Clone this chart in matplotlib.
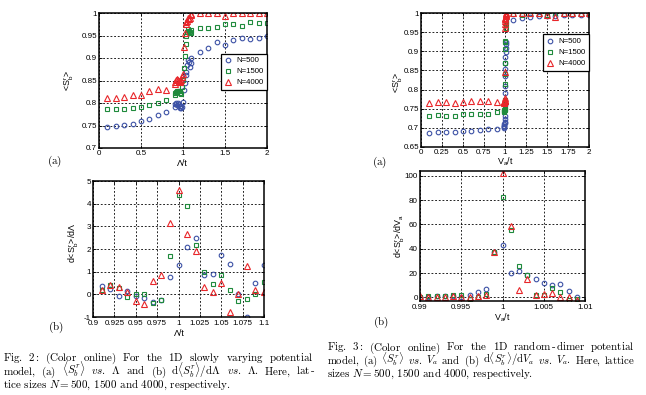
import matplotlib
matplotlib.use("Agg")
import matplotlib.pyplot as plt
from matplotlib.ticker import FixedLocator

# ---------------- data ----------------
# Fig.2(a): <S_b^r> vs Lambda/t
lam_x = [0.1, 0.2, 0.3, 0.4, 0.5, 0.6, 0.7, 0.8, 0.9,
         0.91, 0.92, 0.93, 0.94, 0.95, 0.96, 0.97, 0.98, 0.99, 1.00,
         1.01, 1.02, 1.03, 1.04, 1.05, 1.06, 1.07, 1.08, 1.09, 1.10,
         1.2, 1.3, 1.4, 1.5, 1.6, 1.7, 1.8, 1.9, 2.0]
lam_n500 = [0.746, 0.748, 0.751, 0.754, 0.760, 0.765, 0.773, 0.780, 0.792,
            0.797, 0.799, 0.795, 0.800, 0.797, 0.794, 0.790, 0.788, 0.791, 0.803,
            0.829, 0.844, 0.862, 0.870, 0.885, 0.895, 0.892, 0.880, 0.890, 0.900,
            0.914, 0.923, 0.935, 0.928, 0.939, 0.945, 0.942, 0.945, 0.948]
lam_n1500 = [0.786, 0.786, 0.787, 0.789, 0.791, 0.795, 0.800, 0.806, 0.818,
             0.822, 0.824, 0.827, 0.826, 0.826, 0.826, 0.822, 0.820, 0.836, 0.851,
             0.877, 0.905, 0.931, 0.948, 0.958, 0.964, 0.960, 0.957, 0.956, 0.962,
             0.967, 0.966, 0.970, 0.976, 0.976, 0.972, 0.979, 0.977, 0.977]
lam_n4000 = [0.810, 0.812, 0.813, 0.818, 0.818, 0.827, 0.831, 0.829, 0.843,
             0.847, 0.851, 0.854, 0.852, 0.850, 0.846, 0.848, 0.852, 0.858, 0.864,
             0.925, 0.955, 0.975, 0.979, 0.983, 0.990, 0.987, 0.990, 0.995, 0.997,
             1.000, 1.000, 1.000, 0.993, 1.000, 1.000, 1.000, 1.000, 1.000]

# Fig.2(b): d<S_b^r>/dLambda
dlam_x = [0.91, 0.92, 0.93, 0.94, 0.95, 0.96, 0.97, 0.98, 0.99, 1.00,
          1.01, 1.02, 1.03, 1.04, 1.05, 1.06, 1.07, 1.08, 1.09, 1.10]
dlam_n500 = [0.37, 0.22, -0.06, 0.15, -0.07, -0.18, -0.35, -0.25, 0.76, 1.31,
             2.09, 2.49, 0.87, 0.91, 1.73, 1.36, 0.0, -1.0, 0.49, 1.28]
dlam_n1500 = [0.20, 0.40, 0.30, -0.10, 0.03, 0.0, -0.37, -0.23, 1.67, 4.37,
              3.90, 2.18, 1.00, 0.45, 0.85, 0.20, -0.28, -0.20, 0.03, 0.55]
dlam_n4000 = [0.19, 0.42, 0.34, 0.09, -0.30, -0.43, 0.61, 0.87, 3.15, 4.60,
              2.66, 1.90, 0.34, 0.09, 0.49, -0.79, 0.0, 1.24, 0.19, 0.12]

# Fig.3(a): <S_b^r> vs V_a/t
va_x = [0.1, 0.2, 0.3, 0.4, 0.5, 0.6, 0.7, 0.8, 0.9,
        0.990, 0.991, 0.992, 0.993, 0.994, 0.995, 0.996, 0.997, 0.998, 0.999,
        1.000, 1.001, 1.002, 1.003, 1.004, 1.005, 1.006, 1.007, 1.008, 1.009,
        1.1, 1.2, 1.3, 1.4, 1.5, 1.6, 1.7, 1.8, 1.9, 2.0]
va_n500 = [0.687, 0.688, 0.689, 0.689, 0.691, 0.692, 0.694, 0.696, 0.697,
           0.700, 0.702, 0.704, 0.706, 0.709, 0.712, 0.716, 0.722, 0.730, 0.760,
           0.790, 0.810, 0.835, 0.855, 0.870, 0.885, 0.897, 0.908, 0.918, 0.925,
           0.983, 0.987, 0.990, 0.991, 0.991, 0.993, 0.994, 0.994, 0.994, 0.996]
va_n1500 = [0.732, 0.733, 0.731, 0.732, 0.736, 0.737, 0.737, 0.737, 0.741,
            0.742, 0.743, 0.744, 0.745, 0.747, 0.748, 0.748, 0.747, 0.750, 0.773,
            0.815, 0.840, 0.870, 0.905, 0.925, 0.928, 0.960, 0.970, 0.975, 0.980,
            0.998, 0.996, 0.998, 0.998, 0.996, 1.000, 0.998, 0.998, 0.998, 1.000]
va_n4000 = [0.764, 0.767, 0.767, 0.766, 0.767, 0.771, 0.769, 0.769, 0.767,
            0.766, 0.767, 0.767, 0.768, 0.768, 0.769, 0.770, 0.771, 0.772, 0.777,
            0.847, 0.962, 0.972, 0.978, 0.984, 0.988, 0.992, 0.995, 0.997, 0.999,
            1.000, 1.000, 1.000, 1.000, 0.994, 0.990, 1.000, 1.000, 1.000, 1.000]

# Fig.3(b): d<S_b^r>/dV_a
dva_x = [0.990, 0.991, 0.992, 0.993, 0.994, 0.995, 0.996, 0.997, 0.998, 0.999,
         1.000, 1.001, 1.002, 1.003, 1.004, 1.005, 1.006, 1.007, 1.008, 1.009]
dva_n500 = [0.5, 0.5, 1.0, 1.0, 0.8, 0.5, 2.0, 4.0, 6.5, 37.0,
            43.0, 20.0, 22.0, 18.0, 14.7, 12.2, 10.3, 11.4, 5.4, 0.3]
dva_n1500 = [0.5, 1.0, 1.0, 0.8, 1.8, 1.8, -1.4, 0.0, 2.7, 37.0,
             82.3, 55.7, 25.5, 18.5, 1.9, 1.9, 7.6, 4.6, -2.2, -1.0]
dva_n4000 = [0.8, 0.5, 0.5, 0.3, 0.8, 0.0, 0.0, 1.4, 1.9, 37.5,
             102.7, 59.0, 6.0, 15.5, 1.9, 2.7, 3.3, 0.5, 0.5, -2.5]

series_labels = ["N=500", "N=1500", "N=4000"]

# tick labels
tl_xticks = [0, 0.5, 1, 1.5, 2]
tl_xticklabels = ["0", "0.5", "1", "1.5", "2"]
tl_yticks = [0.7, 0.75, 0.8, 0.85, 0.9, 0.95, 1.0]
tl_yticklabels = ["0.7", "0.75", "0.8", "0.85", "0.9", "0.95", "1"]
bl_xticks = [0.9, 0.925, 0.95, 0.975, 1.0, 1.025, 1.05, 1.075, 1.1]
bl_xticklabels = ["0.9", "0.925", "0.95", "0.975", "1", "1.025", "1.05", "1.075", "1.1"]
bl_yticks = [-1, 0, 1, 2, 3, 4, 5]
bl_yticklabels = ["-1", "0", "1", "2", "3", "4", "5"]
tr_xticks = [0, 0.25, 0.5, 0.75, 1, 1.25, 1.5, 1.75, 2]
tr_xticklabels = ["0", "0.25", "0.5", "0.75", "1", "1.25", "1.5", "1.75", "2"]
tr_yticks = [0.65, 0.7, 0.75, 0.8, 0.85, 0.9, 0.95, 1.0]
tr_yticklabels = ["0.65", "0.7", "0.75", "0.8", "0.85", "0.9", "0.95", "1"]
br_xticks = [0.99, 0.995, 1.0, 1.005, 1.01]
br_xticklabels = ["0.99", "0.995", "1", "1.005", "1.01"]
br_yticks = [0, 20, 40, 60, 80, 100]
br_yticklabels = ["0", "20", "40", "60", "80", "100"]

# ---------------- style ----------------
plt.rcParams['font.family'] = ['Liberation Sans', 'DejaVu Sans']
plt.rcParams['mathtext.fontset'] = 'custom'
plt.rcParams['mathtext.rm'] = 'Liberation Sans'
plt.rcParams['mathtext.it'] = 'Liberation Sans:italic'
plt.rcParams['mathtext.bf'] = 'Liberation Sans:bold'
plt.rcParams['axes.unicode_minus'] = False

W, H = 646, 395
fig = plt.figure(figsize=(W / 100, H / 100), dpi=100)

C_BLUE = '#3d52a6'
C_GREEN = '#1f8a3c'
C_RED = '#e8262a'
styles = [dict(marker='o', color=C_BLUE, ms=3.3),
          dict(marker='s', color=C_GREEN, ms=2.9),
          dict(marker='^', color=C_RED, ms=3.7)]
TFS = 5.8


def add_ax(l, t, r, b):
    return fig.add_axes([l / W, 1 - b / H, (r - l) / W, (b - t) / H])


def style_ax(ax, xt, xtl, yt, ytl, xlim, ylim, xpad=1.5):
    ax.set_xlim(*xlim)
    ax.set_ylim(*ylim)
    ax.xaxis.set_major_locator(FixedLocator(xt))
    ax.yaxis.set_major_locator(FixedLocator(yt))
    ax.set_xticklabels(xtl)
    ax.set_yticklabels(ytl)
    ax.tick_params(direction='in', top=True, right=True, length=2.2, width=0.6,
                   labelsize=TFS, pad=1.5, colors='black')
    ax.tick_params(axis='x', pad=xpad)
    ax.grid(True, color='black', linestyle=(0, (2.2, 2.2)), linewidth=0.6)
    for s in ax.spines.values():
        s.set_linewidth(1.1)
        s.set_color('black')


def plot_series(ax, x, ys):
    for y, st, lab in zip(ys, styles, series_labels):
        ax.plot(x, y, linestyle='none', marker=st['marker'], ms=st['ms'],
                mfc='none', mec=st['color'], mew=0.8, label=lab, clip_on=True)


def legend(ax, anchor):
    lg = ax.legend(loc='upper right', bbox_to_anchor=anchor, fontsize=5.6,
                   frameon=True, fancybox=False, framealpha=1, edgecolor='black',
                   handlelength=1.0, handletextpad=0.5, borderpad=0.45,
                   labelspacing=0.45, borderaxespad=0)
    lg.get_frame().set_linewidth(0.9)


def ftext(x, y, s, **kw):
    return fig.text(x / W, 1 - y / H, s, **kw)


# ---- Fig 2(a)
ax1 = add_ax(99, 13, 267, 148)
plot_series(ax1, lam_x, [lam_n500, lam_n1500, lam_n4000])
style_ax(ax1, tl_xticks, tl_xticklabels, tl_yticks, tl_yticklabels, (0, 2), (0.7, 1.0))
legend(ax1, (1.0, 0.70))

# ---- Fig 2(b)
ax2 = add_ax(93, 181, 264, 317)
plot_series(ax2, dlam_x, [dlam_n500, dlam_n1500, dlam_n4000])
style_ax(ax2, bl_xticks, bl_xticklabels, bl_yticks, bl_yticklabels, (0.9, 1.1), (-1, 5), xpad=2.5)

# ---- Fig 3(a)
ax3 = add_ax(421, 13, 589, 147)
plot_series(ax3, va_x, [va_n500, va_n1500, va_n4000])
style_ax(ax3, tr_xticks, tr_xticklabels, tr_yticks, tr_yticklabels, (0, 2), (0.65, 1.0))
legend(ax3, (1.0, 0.84))

# ---- Fig 3(b)
ax4 = add_ax(420, 171, 585, 301)
plot_series(ax4, dva_x, [dva_n500, dva_n1500, dva_n4000])
style_ax(ax4, br_xticks, br_xticklabels, br_yticks, br_yticklabels, (0.99, 1.01), (-3, 104), xpad=2.5)

# axis labels
LFS = 6.4
ftext(182, 163, "Λ/t", fontsize=LFS, ha='center', va='center')
ftext(69, 80, r"<$\mathrm{S^r_b}$>", fontsize=LFS, ha='center', va='center', rotation=90)
ftext(179, 333, "Λ/t", fontsize=LFS, ha='center', va='center')
ftext(74, 243, r"d<$\mathrm{S^r_b}$>/dΛ", fontsize=LFS, ha='center', va='center', rotation=90)
ftext(505, 162, r"$\mathrm{V_a}$/t", fontsize=LFS, ha='center', va='center')
ftext(398, 82, r"<$\mathrm{S^r_b}$>", fontsize=LFS, ha='center', va='center', rotation=90)
ftext(502, 318, r"$\mathrm{V_a}$/t", fontsize=LFS, ha='center', va='center')
ftext(400, 236, r"d<$\mathrm{S^r_b}$>/d$\mathrm{V_a}$", fontsize=LFS, ha='center', va='center', rotation=90)

# panel letters
SERIF = ['cmr10', 'DejaVu Serif']
PFS = 8.0
for (px, py, s) in [(55, 161, r"$\mathrm{(a)}$"), (56, 327, r"$\mathrm{(b)}$"),
                    (380, 162, r"$\mathrm{(a)}$"), (381, 322, r"$\mathrm{(b)}$")]:
    ftext(px, py, s, fontsize=PFS, family=SERIF, math_fontfamily='cm', ha='center', va='center')

# ---------------- captions ----------------
renderer = fig.canvas.get_renderer()


def text_width(s, fs):
    t = ftext(0, 0, s, fontsize=fs, family=SERIF, math_fontfamily='cm')
    w = t.get_window_extent(renderer).width
    t.remove()
    return w


def fit_size(s, target_w, base=8.0):
    return base * target_w / text_width(s, base)


def word(*pieces):
    return list(pieces)


def rm(s):
    return r"$\mathrm{" + s + "}$"


def justified(tokens, x0, x1, ybase, fs):
    toks = [t if isinstance(t, list) else [t] for t in tokens]
    while True:
        pw = [[text_width(p, fs) for p in tk] for tk in toks]
        widths = [sum(w) for w in pw]
        gap = (x1 - x0 - sum(widths)) / (len(toks) - 1)
        if gap >= 3.5 or fs < 5:
            break
        fs -= 0.1
    x = x0
    for tk, ws in zip(toks, pw):
        for p, w in zip(tk, ws):
            ftext(x, ybase, p, fontsize=fs, family=SERIF, math_fontfamily='cm',
                  ha='left', va='baseline')
            x += w
        x += gap


VS = r"$\mathit{vs.}$"
SB = r"$\langle S^r_b\rangle$"

cap2_l1 = [rm("Fig."), rm("2:"), rm("(Color"), rm("online)"), rm("For"), rm("the"),
           rm("1D"), rm("slowly"), rm("varying"), rm("potential")]
cap2_l2 = [rm("model,"), rm("(a)"), SB, VS, r"$\Lambda$", rm("and"), rm("(b)"),
           r"$\mathrm{d}\langle S^r_b\rangle/\mathrm{d}\Lambda$", VS, r"$\Lambda.$",
           rm("Here,"), word(rm("lat"), "-")]
cap2_l3 = r"tice sizes $N = 500$, 1500 and 4000, respectively."
cap3_l1 = [rm("Fig."), rm("3:"), rm("(Color"), rm("online)"), rm("For"), rm("the"),
           rm("1D"), word(rm("random"), "-", rm("dimer")), rm("potential")]
cap3_l2 = [rm("model,"), rm("(a)"), SB, VS, r"$V_a$", rm("and"), rm("(b)"),
           r"$\mathrm{d}\langle S^r_b\rangle/\mathrm{d}V_a$", VS, r"$V_a.$",
           rm("Here,"), rm("lattice")]
cap3_l3 = r"sizes $N = 500$, 1500 and 4000, respectively."

CFS2 = 0.96 * fit_size(cap2_l3, 237)
CFS3 = 0.96 * fit_size(cap3_l3, 215)
justified(cap2_l1, 3, 314, 361, CFS2)
justified(cap2_l2, 3, 314, 374.5, CFS2)
ftext(3, 388, cap2_l3, fontsize=CFS2, family=SERIF, math_fontfamily='cm', ha='left', va='baseline')
justified(cap3_l1, 327, 635, 350.5, CFS3)
justified(cap3_l2, 327, 635, 363.5, CFS3)
ftext(327, 377, cap3_l3, fontsize=CFS3, family=SERIF, math_fontfamily='cm', ha='left', va='baseline')

fig.savefig("out.png", dpi=100)
